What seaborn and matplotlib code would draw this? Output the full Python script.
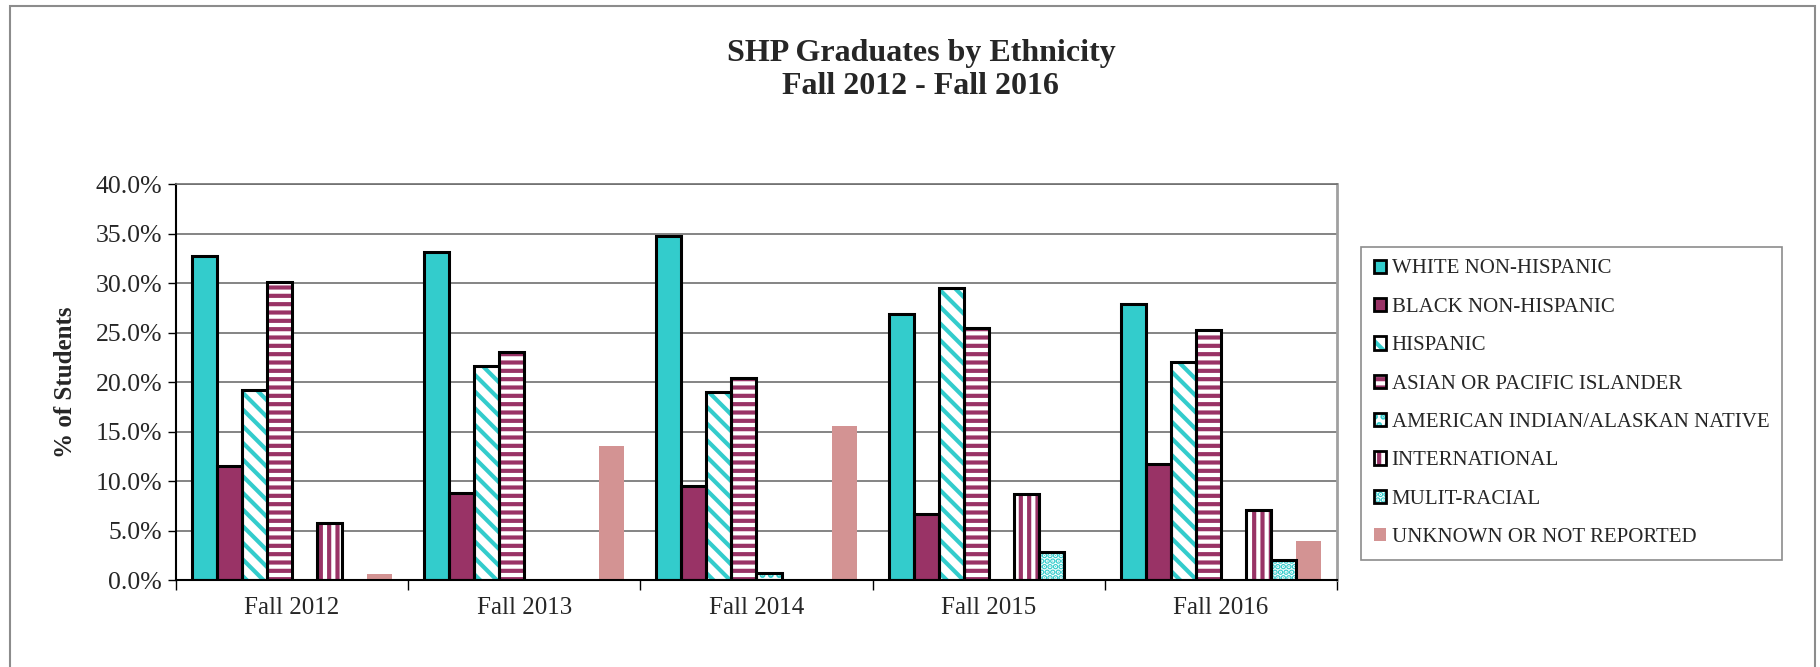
import numpy as np
import pandas as pd
import seaborn as sns
import matplotlib.pyplot as plt
from matplotlib.patches import Patch, Rectangle
from matplotlib.ticker import FixedLocator, FuncFormatter

# values (percent of students)
terms = ['Fall 2012', 'Fall 2013', 'Fall 2014', 'Fall 2015', 'Fall 2016']
groups = ['WHITE NON-HISPANIC', 'BLACK NON-HISPANIC', 'HISPANIC',
          'ASIAN OR PACIFIC ISLANDER', 'AMERICAN INDIAN/ALASKAN NATIVE',
          'INTERNATIONAL', 'MULIT-RACIAL', 'UNKNOWN OR NOT REPORTED']
white = [32.7, 33.1, 34.7, 26.9, 27.9]
black = [11.5, 8.8, 9.5, 6.7, 11.7]
hispanic = [19.2, 21.6, 19.0, 29.5, 22.0]
asian = [30.1, 23.0, 20.4, 25.5, 25.3]
am_indian = [0.0, 0.0, 0.7, 0.0, 0.0]
international = [5.8, 0.0, 0.0, 8.7, 7.1]
multi = [0.0, 0.0, 0.0, 2.8, 2.0]
unknown = [0.6, 13.5, 15.6, 0.0, 3.9]

cyan = '#33CCCC'
purple = '#993366'
pink = '#D39393'
# face, hatch, hatch colour, outlined
styles = {
    'WHITE NON-HISPANIC': (cyan, '', None, True),
    'BLACK NON-HISPANIC': (purple, '', None, True),
    'HISPANIC': ('white', '\\\\', cyan, True),
    'ASIAN OR PACIFIC ISLANDER': ('white', '--', purple, True),
    'AMERICAN INDIAN/ALASKAN NATIVE': ('white', '..', cyan, True),
    'INTERNATIONAL': ('white', '||', purple, True),
    'MULIT-RACIAL': ('white', '...', cyan, True),
    'UNKNOWN OR NOT REPORTED': (pink, '', None, False),
}

series = [white, black, hispanic, asian, am_indian, international, multi, unknown]
rows = []
for g, vals in zip(groups, series):
    for t, v in zip(terms, vals):
        rows.append({'term': t, 'group': g, 'pct': v})
df = pd.DataFrame(rows)

sns.set_style('white')
plt.rcParams['font.family'] = ['Liberation Serif', 'DejaVu Serif']
plt.rcParams['hatch.linewidth'] = 3.0

fig = plt.figure(figsize=(18.2, 6.67), dpi=100)
ax = fig.add_axes([0.0967, 0.1304, 0.6379, 0.5937])

sns.barplot(data=df, x='term', y='pct', hue='group', hue_order=groups, order=terms,
            palette=[styles[g][0] for g in groups], width=0.862, gap=0,
            saturation=1, legend=False, ax=ax, zorder=2)

for g, cont in zip(groups, ax.containers):
    face, hatch, hcol, outlined = styles[g]
    for bar in cont:
        if bar.get_height() <= 0:
            bar.set_visible(False)
            continue
        bar.set_linewidth(0)
        if hatch:
            bar.set_hatch(hatch)
            bar.set_edgecolor(hcol)
        else:
            bar.set_edgecolor(face)
        if outlined:
            ax.add_patch(Rectangle(bar.get_xy(), bar.get_width(), bar.get_height(),
                                   fill=False, edgecolor='black', linewidth=2.2, zorder=3))

ax.set_ylim(0, 40)
ax.set_xlim(-0.5, len(terms) - 0.5)
ax.set_yticks(np.arange(0, 40.1, 5))
ax.yaxis.set_major_formatter(FuncFormatter(lambda v, p: f'{v:.1f}%'))
ax.grid(axis='y', color='#6f6f6f', linewidth=1.2, zorder=0)
ax.set_axisbelow(True)

ax.xaxis.set_major_locator(FixedLocator(np.arange(-0.5, len(terms), 1.0)))
ax.xaxis.set_minor_locator(FixedLocator(np.arange(len(terms))))
ax.set_xticklabels([], minor=False)
ax.set_xticklabels(terms, minor=True)
ax.tick_params(axis='x', which='major', direction='out', length=7, width=1, color='black', bottom=True)
ax.tick_params(axis='x', which='minor', length=0, labelsize=18, pad=12)
ax.tick_params(axis='y', direction='out', length=6, width=1, color='black', left=True, labelsize=18.5, pad=4)
ax.set_xlabel('')
ax.set_ylabel('% of Students', fontsize=18, fontweight='bold')
ax.yaxis.set_label_coords(-0.085, 0.5)

for side in ['left', 'bottom']:
    ax.spines[side].set_color('black')
    ax.spines[side].set_linewidth(1.5)
ax.spines['top'].set_color('#6f6f6f')
ax.spines['top'].set_linewidth(1.2)
ax.spines['right'].set_color('#a0a0a0')
ax.spines['right'].set_linewidth(2)

fig.text(0.506, 0.895, 'SHP Graduates by Ethnicity\nFall 2012 - Fall 2016',
         ha='center', va='center', fontsize=23, fontweight='bold', linespacing=1.17)

# legend swatches: hatched square with a black outline laid over it
handles = []
for g in groups:
    face, hatch, hcol, outlined = styles[g]
    if outlined:
        fillp = Patch(facecolor=face, edgecolor=hcol if hatch else face,
                      hatch=hatch if hatch else None, linewidth=0)
        edgep = Patch(fill=False, edgecolor='black', linewidth=2)
        handles.append((fillp, edgep))
    else:
        handles.append(Patch(facecolor=face, edgecolor=face, linewidth=0))
leg = fig.legend(handles, groups, loc='upper left', bbox_to_anchor=(0.748, 0.6297),
                 fontsize=15, frameon=True, fancybox=False, framealpha=1,
                 edgecolor='#8c8c8c', handlelength=0.6, handleheight=0.6,
                 handletextpad=0.25, labelspacing=0.93, borderpad=0.6, borderaxespad=0)
leg.get_frame().set_linewidth(1.2)

# figure border
fig.patches.append(Rectangle((10 / 1820, -0.05), 1815 / 1820 - 10 / 1820, 1.05 - 6 / 667,
                             transform=fig.transFigure, fill=False,
                             edgecolor='#8c8c8c', linewidth=1.5))

plt.savefig('out.png', dpi=100)
